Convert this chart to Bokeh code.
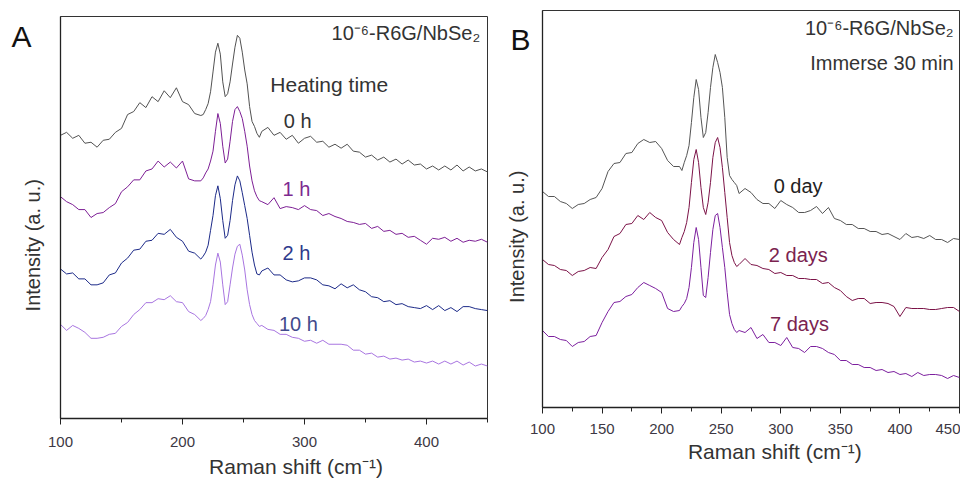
from bokeh.plotting import figure
from bokeh.models import Label, SingleIntervalTicker, FixedTicker, Range1d, LinearAxis
from bokeh.layouts import row, column
from bokeh.embed import file_html
from bokeh.resources import INLINE

# ---------------- data (Raman shift, cm^-1; intensity in arbitrary units) ----------------
shift = [100, 105, 110, 115, 120, 125, 130, 135, 140, 145, 150, 155, 160, 165, 170, 175, 180, 185, 190, 195, 200, 205, 210, 215,
         217, 219, 221, 223, 225, 227, 229, 231, 233, 235, 237, 239, 241, 243, 245, 247, 249, 251, 253, 255, 257, 259, 261, 263,
         265, 270, 275, 280, 285, 290, 295, 300, 305, 310, 315, 320, 325, 330, 335, 340, 345, 350, 355, 360, 365, 370, 375, 380,
         385, 390, 395, 400, 405, 410, 415, 420, 425, 430, 435, 440, 445, 450]

# Panel A: heating time
a_0h = [286, 289, 283, 286, 278, 279, 274, 281, 282, 289, 293, 307, 310, 319, 314, 325, 320, 331, 324, 334, 320, 317, 308, 306,
        307, 312, 318, 330, 350, 370, 379, 368, 340, 325, 328, 340, 358, 375, 387, 384, 370, 352, 338, 315, 300, 295, 288, 284,
        290, 294, 286, 289, 282, 286, 278, 283, 285, 279, 280, 274, 277, 273, 277, 270, 269, 264, 266, 261, 264, 259, 262, 257,
        261, 256, 257, 252, 255, 251, 255, 251, 256, 250, 254, 250, 252, 249]
a_1h = [224, 219, 216, 211, 211, 203, 207, 208, 213, 217, 229, 234, 241, 241, 250, 252, 260, 254, 259, 253, 260, 242, 240, 240,
        243, 248, 252, 260, 270, 290, 308, 298, 275, 258, 262, 280, 300, 312, 315, 310, 303, 290, 275, 255, 240, 230, 224, 220,
        219, 216, 223, 212, 214, 213, 211, 215, 211, 210, 205, 207, 204, 202, 199, 198, 196, 197, 192, 194, 189, 190, 186, 187,
        183, 184, 180, 176, 182, 181, 183, 179, 182, 178, 180, 179, 181, 178]
a_2h = [151, 146, 147, 141, 141, 135, 135, 137, 145, 147, 157, 162, 170, 171, 179, 180, 187, 186, 191, 183, 179, 169, 167, 161,
        164, 168, 175, 190, 205, 225, 235, 222, 200, 182, 185, 200, 220, 236, 245, 240, 228, 215, 202, 185, 168, 155, 146, 145,
        149, 152, 145, 145, 140, 138, 139, 142, 142, 140, 135, 134, 131, 136, 132, 135, 130, 128, 123, 122, 118, 119, 115, 116,
        113, 112, 111, 114, 110, 114, 109, 112, 108, 113, 113, 111, 110, 109]
a_10h = [95, 89, 94, 91, 87, 81, 81, 82, 85, 86, 93, 97, 105, 110, 117, 117, 121, 120, 124, 118, 117, 108, 105, 99,
         101, 104, 110, 118, 135, 155, 167, 158, 135, 115, 118, 135, 152, 166, 174, 176, 165, 150, 130, 115, 105, 99, 96, 93,
         94, 90, 89, 85, 85, 82, 81, 78, 79, 76, 79, 75, 75, 75, 74, 69, 69, 65, 66, 62, 63, 60, 61, 59,
         60, 57, 58, 56, 58, 55, 58, 55, 58, 54, 57, 53, 55, 53]

# Panel B: storage time
b_0d = [216, 211, 211, 206, 204, 199, 203, 204, 208, 210, 219, 236, 244, 245, 254, 255, 264, 268, 265, 266, 259, 247, 241, 241,
        237, 245, 252, 262, 285, 310, 328, 318, 290, 270, 275, 295, 320, 340, 353, 345, 335, 320, 290, 250, 232, 228, 225, 222,
        214, 219, 215, 208, 204, 204, 199, 207, 203, 200, 195, 195, 197, 201, 194, 200, 189, 187, 183, 183, 179, 179, 176, 176,
        173, 174, 171, 168, 174, 170, 171, 169, 172, 168, 168, 165, 169, 168]
b_2d = [148, 143, 142, 138, 137, 132, 136, 137, 140, 139, 150, 158, 171, 174, 183, 184, 192, 188, 195, 190, 187, 175, 168, 163,
        170, 176, 185, 200, 225, 248, 258, 245, 220, 200, 193, 205, 225, 250, 265, 270, 260, 240, 215, 190, 165, 152, 145, 141,
        143, 149, 143, 142, 139, 138, 134, 135, 132, 132, 129, 129, 128, 128, 124, 125, 120, 117, 111, 107, 109, 109, 104, 105,
        105, 104, 101, 91, 100, 99, 99, 99, 98, 98, 99, 100, 100, 96]
b_7d = [77, 71, 71, 68, 67, 61, 65, 66, 71, 72, 85, 96, 105, 106, 111, 113, 120, 125, 122, 119, 115, 99, 96, 97,
        101, 104, 109, 120, 140, 165, 180, 168, 140, 112, 110, 130, 155, 178, 192, 194, 180, 160, 140, 115, 93, 84, 78, 75,
        77, 75, 80, 69, 73, 65, 65, 62, 70, 60, 59, 55, 61, 61, 59, 55, 53, 47, 47, 43, 43, 40, 40, 37,
        38, 35, 36, 33, 34, 31, 35, 32, 33, 33, 32, 29, 32, 30]

a_series = [a_0h, a_1h, a_2h, a_10h]
a_names = ["0 h", "1 h", "2 h", "10 h"]
a_colors = ["#525252", "#7d1f95", "#1c2a88", "#a875e0"]
a_label_colors = ["#333333", "#7d2a90", "#2e3a8c", "#424a8c"]
a_label_pos = [(283, 300), (282, 232), (282, 167), (279, 95)]

b_series = [b_0d, b_2d, b_7d]
b_names = ["0 day", "2 days", "7 days"]
b_colors = ["#555555", "#7b1247", "#7c1f9e"]
b_label_colors = ["#222222", "#7b2350", "#7b2350"]
b_label_pos = [(294, 222), (290, 153), (291, 84)]

FONT = "Liberation Sans"
NB = "\u00a0"
XTITLE = "Raman shift (cm\u207b\u00b9)"
YTITLE = "Intensity (a. u.)" + NB * 10
SAMPLE = "10\u207b\u2076-R6G/NbSe\u2082"


def text_axis(p, side, pos, text, size, standoff, color="#333333"):
    """An invisible extra axis whose single tick label carries a piece of text."""
    ax = LinearAxis(ticker=FixedTicker(ticks=[pos]), major_label_overrides={pos: text})
    ax.axis_line_color = None
    ax.major_tick_line_color = None
    ax.minor_tick_line_color = None
    ax.major_tick_in = 0
    ax.major_tick_out = 0
    ax.minor_tick_in = 0
    ax.minor_tick_out = 0
    ax.major_label_standoff = standoff
    ax.major_label_text_font = FONT
    ax.major_label_text_font_size = size
    ax.major_label_text_color = color
    p.add_layout(ax, side)
    return ax


def make_panel(width, ytop, borders, interval, label_standoff, y_standoff, xlab, tag):
    left, right, top, bottom = borders
    p = figure(width=width, height=480, x_range=Range1d(100, 450), y_range=Range1d(0, ytop),
               output_backend="svg", toolbar_location=None,
               min_border_left=left, min_border_right=right, min_border_top=top, min_border_bottom=bottom)
    p.xgrid.visible = False
    p.ygrid.visible = False
    p.background_fill_color = "white"
    p.border_fill_color = "white"
    p.outline_line_color = "#333333"
    p.outline_line_width = 1

    xa = p.xaxis[0]
    xa.ticker = SingleIntervalTicker(interval=interval, num_minor_ticks=2)
    xa.axis_line_color = "#222222"
    xa.axis_line_width = 1.3
    xa.major_tick_line_color = "#222222"
    xa.minor_tick_line_color = "#222222"
    xa.major_tick_in = 0
    xa.major_tick_out = 6
    xa.minor_tick_in = 0
    xa.minor_tick_out = 4
    xa.major_label_text_font = FONT
    xa.major_label_text_font_size = "15px"
    xa.major_label_text_color = "#3d3844"
    xa.major_label_standoff = label_standoff

    ya = p.yaxis[0]
    ya.ticker = FixedTicker(ticks=[])
    ya.axis_line_color = "#222222"
    ya.axis_line_width = 1.3
    ya.major_tick_line_color = None
    ya.minor_tick_line_color = None
    ya.major_tick_in = 0
    ya.major_tick_out = 0
    ya.minor_tick_in = 0
    ya.minor_tick_out = 0
    ya.axis_label = YTITLE
    ya.axis_label_text_font = FONT
    ya.axis_label_text_font_size = "20px"
    ya.axis_label_text_font_style = "normal"
    ya.axis_label_text_color = "#333333"
    ya.axis_label_standoff = y_standoff

    text_axis(p, "below", xlab[0], XTITLE, "21px", xlab[1])
    text_axis(p, "left", tag[1], tag[0], "30px", tag[2], color="#111111")
    return p


def add_label(p, x, y, text, color, size="20px", align="left"):
    p.add_layout(Label(x=x, y=y, text=text, text_font=FONT, text_font_size=size,
                       text_color=color, text_baseline="middle", text_align=align))


# ---------------- panel A ----------------
pa = make_panel(501, 406, (60, 14, 16, 58), 100, 12, 17, (293, 5), ("A", 386, -13))
for ys, c in zip(a_series, a_colors):
    pa.line(shift, ys, line_color=c, line_width=1)
for name, c, (lx, ly) in zip(a_names, a_label_colors, a_label_pos):
    add_label(pa, lx, ly, name, c)
add_label(pa, 444, 389, SAMPLE, "#333333", align="right")
add_label(pa, 272, 337, "Heating time", "#333333", size="21px")

# ---------------- panel B ----------------
pb = make_panel(459, 397, (41, 1, 10, 73), 50, 10, 15, (295, 3), ("B", 368, -28))
for ys, c in zip(b_series, b_colors):
    pb.line(shift, ys, line_color=c, line_width=1)
for name, c, (lx, ly) in zip(b_names, b_label_colors, b_label_pos):
    add_label(pb, lx, ly, name, c)
add_label(pb, 445, 380, SAMPLE, "#333333", align="right")
add_label(pb, 445, 345, "Immerse 30 min", "#333333", align="right")

# panel B sits in its own column so that the two plot frames are not forced into alignment
layout = row(pa, column(pb))
open("out.html", "w").write(file_html(layout, INLINE))
